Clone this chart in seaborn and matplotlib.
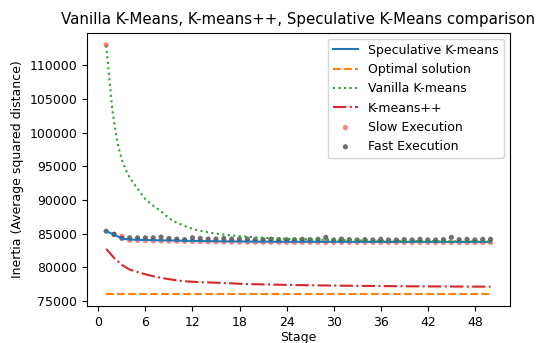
import numpy as np
import pandas as pd
import matplotlib
matplotlib.use("Agg")
import matplotlib.pyplot as plt
import seaborn as sns

# ---- data ----
stages = list(range(1, 51))

speculative = [85350, 84870, 84250, 84120, 84080, 84050, 84020, 84000, 83980, 83960,
               83940, 83920, 83900, 83880, 83860, 83850, 83840, 83830, 83820, 83810,
               83805, 83800, 83800, 83795, 83795, 83790, 83790, 83790, 83785, 83785,
               83785, 83780, 83780, 83780, 83780, 83775, 83775, 83775, 83775, 83775,
               83770, 83770, 83770, 83770, 83770, 83770, 83770, 83770, 83770, 83770]

fast_exec = [85350, 84900, 84300, 84380, 84380, 84380, 84380, 84480, 84280, 84190,
             84100, 84380, 84280, 84190, 84190, 84280, 84190, 84190, 84190, 84100,
             84100, 84150, 84100, 84100, 84100, 84150, 84100, 84150, 84430, 84050,
             84190, 84100, 84050, 84100, 84050, 84150, 84050, 84050, 84100, 84050,
             84150, 84050, 84050, 84100, 84430, 84100, 84150, 84050, 84150, 84150]

slow_exec = [113000, 84870, 84600, 84000, 83980, 83950, 83920, 83900, 83880, 83860,
             83840, 83820, 83800, 83780, 83760, 83750, 83740, 83730, 83720, 83710,
             83700, 83700, 83700, 83690, 83690, 83690, 83690, 83690, 83680, 83680,
             83680, 83680, 83680, 83680, 83680, 83675, 83675, 83675, 83675, 83675,
             83670, 83670, 83670, 83670, 83670, 83670, 83670, 83670, 83670, 83670]

optimal_x = [1, 50]
optimal = [76100, 76100]

vanilla_x = [1, 1.2, 1.4, 1.6, 1.8, 2, 2.5, 3, 3.5, 4, 5, 6, 7, 8, 9, 10, 11, 12, 13, 14,
             15, 16, 18, 20, 22, 24, 27, 30, 35, 40, 45, 50]
vanilla = [112950, 110600, 108000, 105600, 103300, 101700, 98200, 95950, 94500, 93300,
           91650, 90100, 89150, 88300, 87300, 86600, 86150, 85700, 85400, 85180,
           85000, 84850, 84620, 84450, 84320, 84220, 84120, 84050, 83950, 83900, 83850, 83820]

kpp_x = [1, 1.5, 2, 3, 4, 5, 6, 7, 8, 9, 10, 11, 13, 15, 17, 19, 21, 25, 30, 35, 40, 45, 50]
kpp = [82720, 82070, 81400, 80350, 79650, 79300, 78950, 78670, 78430, 78230, 78050, 77920,
       77780, 77710, 77610, 77500, 77460, 77360, 77280, 77220, 77170, 77140, 77120]

xticks = list(range(0, 49, 6))
title = "Vanilla K-Means, K-means++, Speculative K-Means comparison"

fig, ax = plt.subplots(figsize=(5.4, 3.43), dpi=100)
fig.subplots_adjust(left=0.161, right=0.944, top=0.905, bottom=0.108)

sns.lineplot(x=stages, y=speculative, ax=ax, color="#1f77b4", linewidth=1.5,
             label="Speculative K-means")
sns.lineplot(x=optimal_x, y=optimal, ax=ax, color="#ff7f0e", linestyle="--",
             linewidth=1.5, label="Optimal solution")
sns.lineplot(x=vanilla_x, y=vanilla, ax=ax, color="#2ca02c", linestyle=":",
             linewidth=1.5, label="Vanilla K-means")
sns.lineplot(x=kpp_x, y=kpp, ax=ax, color="#d62728", linestyle="-.",
             linewidth=1.5, label="K-means++")
sns.scatterplot(x=stages, y=slow_exec, ax=ax, color="red", alpha=0.5, s=14,
                edgecolor="none", label="Slow Execution")
sns.scatterplot(x=stages, y=fast_exec, ax=ax, color="#333333", alpha=0.7, s=14,
                edgecolor="none", label="Fast Execution")

ax.set_xticks(xticks)
ax.tick_params(labelsize=9)
ax.set_xlabel("Stage", fontsize=9, labelpad=2)
ax.set_ylabel("Inertia (Average squared distance)", fontsize=9)
ax.set_title(title, fontsize=10.8)
ax.legend(loc="upper right", fontsize=9)

fig.savefig("out.png", dpi=100)
